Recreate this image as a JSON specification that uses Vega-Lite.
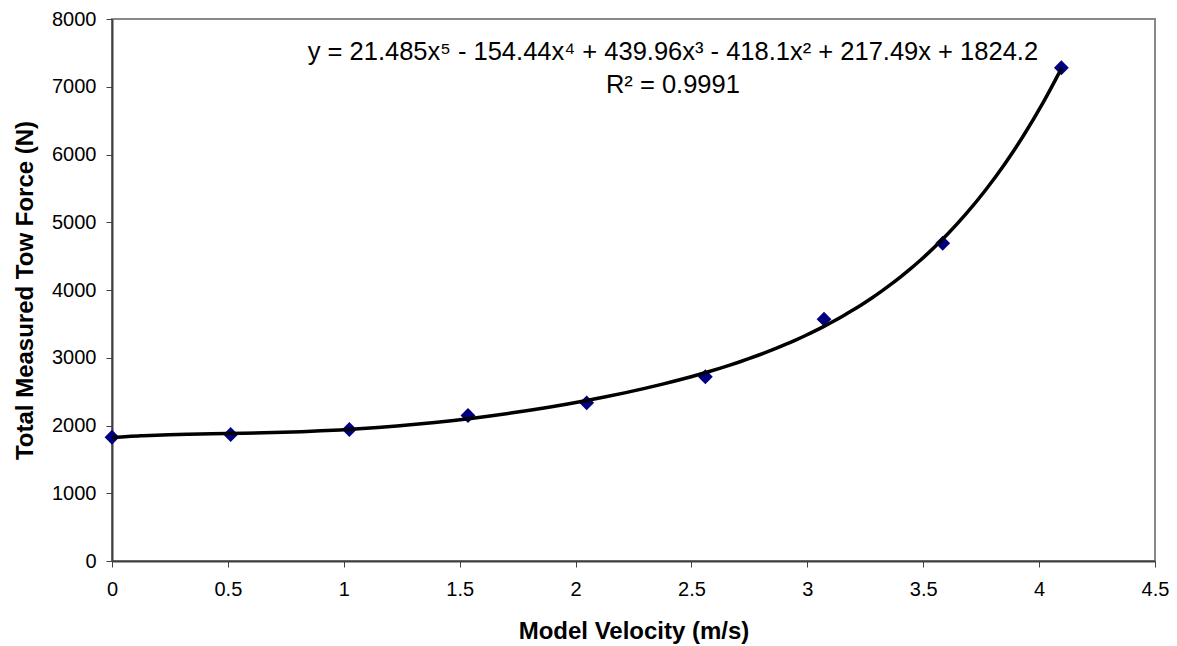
{
  "$schema": "https://vega.github.io/schema/vega-lite/v6.json",
  "autosize": "none",
  "width": 1043,
  "height": 542,
  "padding": {"left": 112, "top": 19, "right": 22, "bottom": 85},
  "background": "white",
  "config": {
    "font": "Liberation Sans",
    "view": {"stroke": "#888888", "strokeWidth": 2},
    "axis": {
      "grid": false,
      "labelFlush": false,
      "labelOverlap": false,
      "domainColor": "#404040",
      "domainWidth": 2,
      "tickColor": "#404040",
      "tickSize": 6,
      "labelFont": "Liberation Sans",
      "labelFontSize": 20,
      "labelColor": "black",
      "titleFont": "Liberation Sans",
      "titleFontSize": 24,
      "titleFontWeight": "bold",
      "titleColor": "black"
    }
  },
  "datasets": {
    "pts": [
      {"v": 0, "f": 1827},
      {"v": 0.512, "f": 1867},
      {"v": 1.024, "f": 1941},
      {"v": 1.536, "f": 2148},
      {"v": 2.048, "f": 2335},
      {"v": 2.56, "f": 2720},
      {"v": 3.072, "f": 3570},
      {"v": 3.584, "f": 4690},
      {"v": 4.096, "f": 7280}
    ],
    "notes": [
      {"v": 2.42, "f": 7510, "t": "y = 21.485x⁵ - 154.44x⁴ + 439.96x³ - 418.1x² + 217.49x + 1824.2"},
      {"v": 2.42, "f": 7027, "t": "R² = 0.9991"}
    ]
  },
  "layer": [
    {
      "data": {"name": "pts"},
      "mark": {"type": "point", "shape": "diamond", "filled": true, "size": 220, "color": "#000080", "opacity": 1},
      "encoding": {
        "x": {"field": "v", "type": "quantitative", "scale": {"domain": [0, 4.5], "nice": false},
          "axis": {"title": "Model Velocity (m/s)", "format": "~g", "values": [0, 0.5, 1, 1.5, 2, 2.5, 3, 3.5, 4, 4.5], "labelPadding": 12, "titlePadding": 20}},
        "y": {"field": "f", "type": "quantitative", "scale": {"domain": [0, 8000], "nice": false},
          "axis": {"title": "Total Measured Tow Force (N)", "format": "d", "values": [0, 1000, 2000, 3000, 4000, 5000, 6000, 7000, 8000], "labelPadding": 10, "titlePadding": 14}}
      }
    },
    {
      "data": {"name": "pts"},
      "transform": [{"regression": "f", "on": "v", "method": "poly", "order": 5, "extent": [0, 4.096]}],
      "mark": {"type": "line", "color": "black", "strokeWidth": 3.5, "interpolate": "monotone"},
      "encoding": {
        "x": {"field": "v", "type": "quantitative"},
        "y": {"field": "f", "type": "quantitative"}
      }
    },
    {
      "data": {"name": "notes"},
      "mark": {"type": "text", "fontSize": 25.5, "color": "black", "align": "center", "baseline": "middle", "font": "Liberation Sans"},
      "encoding": {
        "x": {"field": "v", "type": "quantitative"},
        "y": {"field": "f", "type": "quantitative"},
        "text": {"field": "t"}
      }
    }
  ]
}
